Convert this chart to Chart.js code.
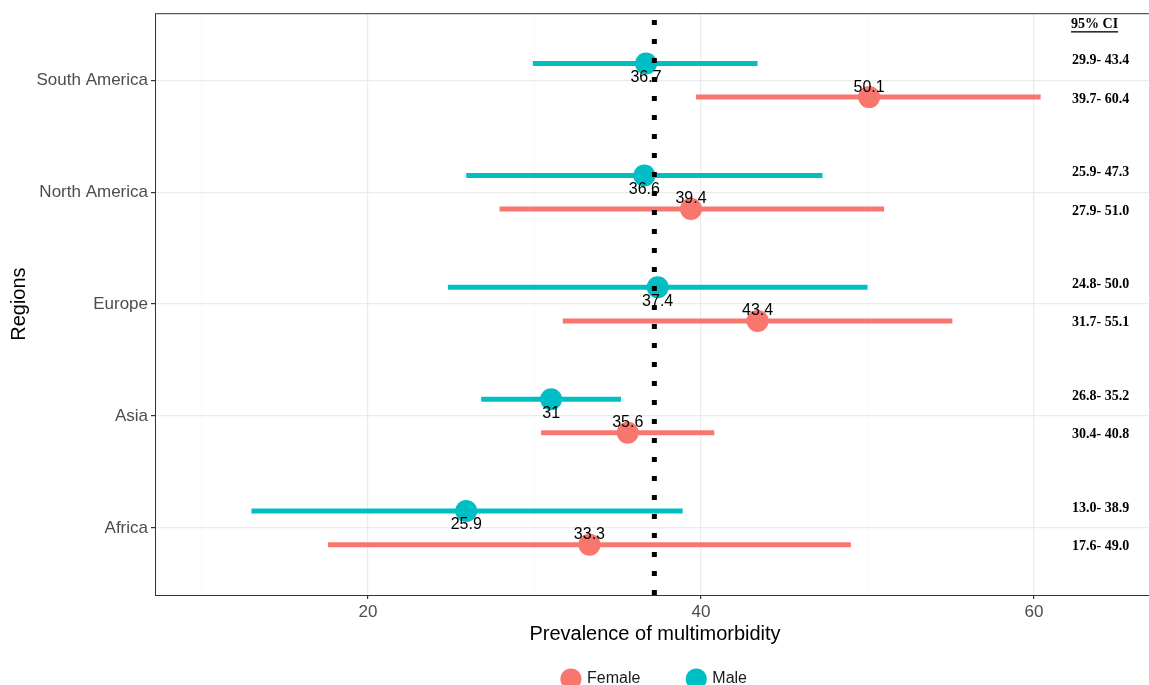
<!DOCTYPE html>
<html>
<head>
<meta charset="utf-8">
<script src="https://cdn.jsdelivr.net/npm/chart.js@4.4.1/dist/chart.umd.min.js"></script>
<style>
    html, body { margin: 0; padding: 0; background: #fff; overflow: hidden; }
    canvas { display: block; }
</style>
</head>
<body>
<canvas id="chartCanvas" width="1155" height="697"></canvas>
<script>
"use strict";

// regions, top to bottom
const regions = ['South America', 'North America', 'Europe', 'Asia', 'Africa'];

const maleValues = [36.7, 36.6, 37.4, 31, 25.9];
const maleLower = [29.9, 25.9, 24.8, 26.8, 13.0];
const maleUpper = [43.4, 47.3, 50.0, 35.2, 38.9];

const femaleValues = [50.1, 39.4, 43.4, 35.6, 33.3];
const femaleLower = [39.7, 27.9, 31.7, 30.4, 17.6];
const femaleUpper = [60.4, 51.0, 55.1, 40.8, 49.0];

const overallPrevalence = 37.2;
const xTicks = [10, 20, 30, 40, 50, 60];
const ciColumnX = 64.0;

const FEMALE = '#F8766D';
const MALE = '#00BFC4';
const OFFSET = 0.15;
const LEGEND_H = 74;

const catY = i => regions.length - i;

const segments = [];
regions.forEach((r, i) => {
    segments.push({
        type: 'line', label: 'male-ci', data: [{x: maleLower[i], y: catY(i) + OFFSET}, {x: maleUpper[i], y: catY(i) + OFFSET}],
        borderColor: MALE, borderWidth: 5, pointRadius: 0, borderCapStyle: 'butt', order: 10
    });
    segments.push({
        type: 'line', label: 'female-ci', data: [{x: femaleLower[i], y: catY(i) - OFFSET}, {x: femaleUpper[i], y: catY(i) - OFFSET}],
        borderColor: FEMALE, borderWidth: 5, pointRadius: 0, borderCapStyle: 'butt', order: 10
    });
});

const refLine = {
    type: 'line', label: 'overall',
    data: [{x: overallPrevalence, y: 0.4}, {x: overallPrevalence, y: 5.6}],
    borderColor: '#000', borderWidth: 5, borderDash: [5, 14], borderCapStyle: 'butt', pointRadius: 0, order: 0
};

const femalePoints = {
    type: 'scatter', label: 'Female',
    data: femaleValues.map((v, i) => ({x: v, y: catY(i) - OFFSET})),
    backgroundColor: FEMALE, borderWidth: 0, pointRadius: 11, pointStyle: 'circle', order: 1
};
const malePoints = {
    type: 'scatter', label: 'Male',
    data: maleValues.map((v, i) => ({x: v, y: catY(i) + OFFSET})),
    backgroundColor: MALE, borderWidth: 0, pointRadius: 11, pointStyle: 'circle', order: 1
};

const textPlugin = {
    id: 'forestText',
    afterDatasetsDraw(chart) {
        const {ctx, chartArea, scales: {x, y}} = chart;
        ctx.save();
        ctx.fillStyle = '#000';
        ctx.textAlign = 'center';
        ctx.textBaseline = 'middle';
        ctx.font = '16px "Liberation Sans", Arial, sans-serif';
        regions.forEach((r, i) => {
            ctx.fillText(String(maleValues[i]), x.getPixelForValue(maleValues[i]), y.getPixelForValue(catY(i) + OFFSET) + 14);
            ctx.fillText(String(femaleValues[i]), x.getPixelForValue(femaleValues[i]), y.getPixelForValue(catY(i) - OFFSET) - 10);
        });

        // 95% CI column
        ctx.font = 'bold 14px "Liberation Serif", serif';
        const cx = x.getPixelForValue(ciColumnX);
        regions.forEach((r, i) => {
            ctx.fillText(maleLower[i].toFixed(1) + '- ' + maleUpper[i].toFixed(1), cx, y.getPixelForValue(catY(i) + OFFSET) - 3);
            ctx.fillText(femaleLower[i].toFixed(1) + '- ' + femaleUpper[i].toFixed(1), cx, y.getPixelForValue(catY(i) - OFFSET) + 2);
        });
        const head = '95% CI';
        const hy = chartArea.top + 11;
        ctx.fillText(head, cx - 6, hy);
        const w = ctx.measureText(head).width;
        ctx.fillRect(cx - 6 - w / 2, hy + 7, w, 1.3);

        // panel border
        ctx.strokeStyle = '#333';
        ctx.lineWidth = 1;
        ctx.strokeRect(chartArea.left + 0.5, chartArea.top + 0.5, chartArea.right - chartArea.left, chartArea.bottom - chartArea.top);
        ctx.restore();
    }
};

const tickFont = {family: '"Liberation Sans", Arial, sans-serif', size: 17};
const titleFont = {family: '"Liberation Sans", Arial, sans-serif', size: 20};

new Chart(document.getElementById('chartCanvas'), {
    type: 'scatter',
    data: {datasets: [refLine, femalePoints, malePoints, ...segments]},
    options: {
        responsive: false,
        animation: false,
        layout: {autoPadding: false, padding: {top: 12, left: 0, right: 0, bottom: 0}},
        plugins: {
            tooltip: {enabled: false},
            legend: {
                position: 'bottom',
                fullSize: false,
                labels: {
                    filter: item => item.text === 'Female' || item.text === 'Male',
                    usePointStyle: true,
                    pointStyle: 'circle',
                    boxHeight: 15,
                    padding: 48,
                    color: '#1a1a1a',
                    font: {family: '"Liberation Sans", Arial, sans-serif', size: 16}
                }
            }
        },
        scales: {
            x: {
                type: 'linear',
                min: 7.207,
                max: 67.27,
                afterBuildTicks: s => { s.ticks = xTicks.map(v => ({value: v})); },
                afterFit: s => { s.height = s.chart.height - LEGEND_H - 595; },
                grid: {
                    color: c => c.tick && c.tick.value % 20 === 0 ? '#ebebeb' : '#f3f3f3',
                    lineWidth: c => c.tick && c.tick.value % 20 === 0 ? 1.2 : 0.7,
                    tickColor: c => c.tick && c.tick.value % 20 === 0 ? '#333' : 'rgba(0,0,0,0)',
                    tickLength: 4
                },
                border: {display: false},
                ticks: {
                    color: '#4d4d4d', font: tickFont, padding: 3, maxRotation: 0,
                    callback: v => v % 20 === 0 ? String(v) : ''
                },
                title: {display: true, text: 'Prevalence of multimorbidity', color: '#000', font: titleFont, padding: {top: 2, bottom: -23}}
            },
            y: {
                type: 'linear',
                min: 0.4,
                max: 5.6,
                afterBuildTicks: s => { s.ticks = regions.map((r, i) => ({value: catY(i)})); },
                afterFit: s => { s.width = 155; },
                grid: {color: '#ebebeb', lineWidth: 1.2, tickColor: '#333', tickLength: 4},
                border: {display: false},
                ticks: {
                    color: '#4d4d4d', font: tickFont, padding: 3,
                    callback: v => regions[regions.length - v] || ''
                },
                title: {display: true, text: 'Regions', color: '#000', font: titleFont, padding: {top: 7, bottom: 0}}
            }
        }
    },
    plugins: [textPlugin]
});
</script>
</body>
</html>
